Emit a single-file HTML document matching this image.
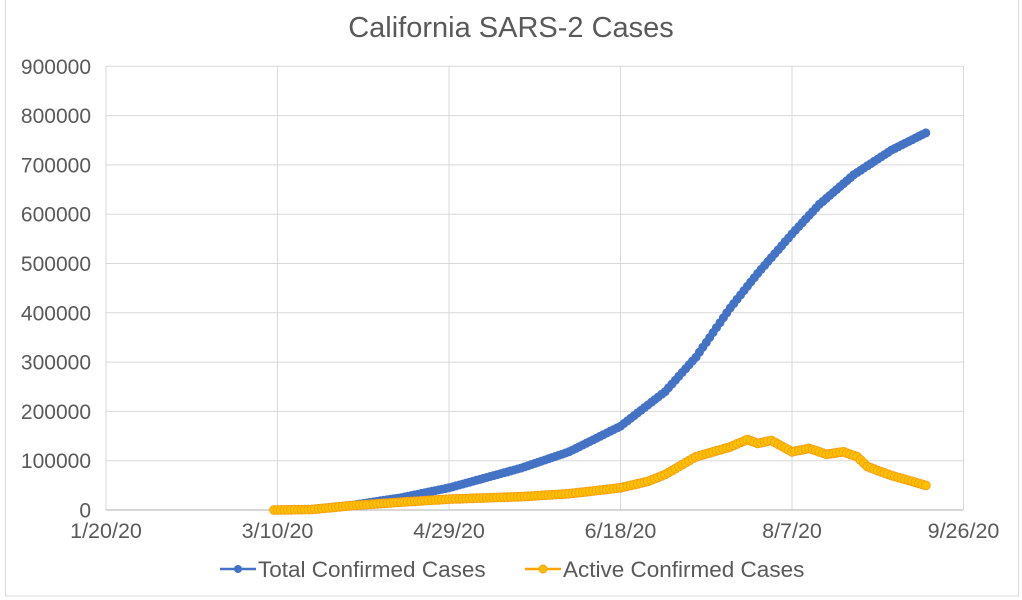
<!DOCTYPE html>
<html><head><meta charset="utf-8"><style>
html,body{margin:0;padding:0;background:#fff;}
svg{display:block;font-family:"Liberation Sans",Arial,sans-serif;}
</style></head><body>
<svg id="c" width="1022" height="600" xmlns="http://www.w3.org/2000/svg">
<rect x="0" y="0" width="1022" height="600" fill="#fff"/>
<rect x="5.5" y="-1" width="1013" height="597" fill="none" stroke="#d9d9d9"/>
<text x="511" y="37" text-anchor="middle" font-size="29" fill="#595959">California SARS-2 Cases</text>
<g id="grid"></g>
<g id="series"></g>
<g font-size="22.5" fill="#595959">
<line x1="220" y1="569" x2="256" y2="569" stroke="#4472c4" stroke-width="2.5"/>
<circle cx="238" cy="569" r="4" fill="#4472c4"/>
<text x="258" y="577">Total Confirmed Cases</text>
<line x1="525" y1="569" x2="561" y2="569" stroke="#ffa500" stroke-width="2.5"/>
<circle cx="543" cy="569" r="4" fill="#ffc000" stroke="#f39c12"/>
<text x="563" y="577">Active Confirmed Cases</text>
</g>
</svg>
<script>
var x0=106,pxd=3.43,y0=510,pyv=49.3/100000;
var g=document.getElementById('grid'),s=document.getElementById('series');
var h='';
for(var i=0;i<=9;i++){var y=y0-i*100000*pyv;
h+='<line x1="'+x0+'" y1="'+y+'" x2="963" y2="'+y+'" stroke="#d9d9d9" stroke-width="1"/>';
h+='<text x="91" y="'+(y+7.5)+'" text-anchor="end" font-size="21" fill="#595959">'+(i*100000)+'</text>';}
var labs=['1/20/20','3/10/20','4/29/20','6/18/20','8/7/20','9/26/20'];
for(var i=0;i<6;i++){var x=x0+i*50*pxd;
h+='<line x1="'+x+'" y1="66" x2="'+x+'" y2="'+y0+'" stroke="#d9d9d9" stroke-width="1"/>';
h+='<text x="'+x+'" y="538" text-anchor="middle" font-size="21.5" fill="#595959">'+labs[i]+'</text>';}
h+='<line x1="'+x0+'" y1="'+y0+'" x2="963" y2="'+y0+'" stroke="#bfbfbf" stroke-width="1.2"/>';
g.innerHTML=h;
function interp(k,d){for(var i=0;i<k.length-1;i++){if(d>=k[i][0]&&d<=k[i+1][0]){var t=(d-k[i][0])/(k[i+1][0]-k[i][0]);return k[i][1]+t*(k[i+1][1]-k[i][1]);}}return k[k.length-1][1];}
var tot=[[49,0],[60,1500],[72,10000],[86,25000],[100,45000],[121,85000],[135,118000],[150,170000],[163,240000],[172,310000],[182,410000],[190,480000],[200,560000],[208,620000],[218,680000],[229,730000],[239,765000]];
var act=[[49,0],[60,1000],[72,9000],[86,16000],[100,22000],[121,27000],[135,33000],[150,45000],[158,58000],[163,72000],[172,108000],[182,128000],[187,143000],[190,135000],[194,141000],[200,118000],[205,125000],[210,113000],[215,118000],[219,108000],[222,88000],[225,80000],[229,70000],[234,60000],[239,50000]];
var o='',p1='',p2='';
for(var d=49;d<=239;d++){var x=x0+d*pxd;var y=y0-interp(tot,d)*pyv;p1+=(d==49?'M':'L')+x.toFixed(1)+','+y.toFixed(1);}
for(var d=49;d<=239;d++){var x=x0+d*pxd;var y=y0-interp(act,d)*pyv;p2+=(d==49?'M':'L')+x.toFixed(1)+','+y.toFixed(1);}
o+='<path d="'+p1+'" fill="none" stroke="#4472c4" stroke-width="2"/>';
for(var d=49;d<=239;d++){var x=x0+d*pxd;var y=y0-interp(tot,d)*pyv;o+='<circle cx="'+x.toFixed(1)+'" cy="'+y.toFixed(1)+'" r="4.5" fill="#4472c4"/>';}
o+='<path d="'+p2+'" fill="none" stroke="#ffa500" stroke-width="2"/>';
for(var d=49;d<=239;d++){var x=x0+d*pxd;var y=y0-interp(act,d)*pyv;o+='<circle cx="'+x.toFixed(1)+'" cy="'+y.toFixed(1)+'" r="4.5" fill="#ffc000" stroke="#f39c12" stroke-width="0.8"/>';}
s.innerHTML=o;
</script>
</body></html>
